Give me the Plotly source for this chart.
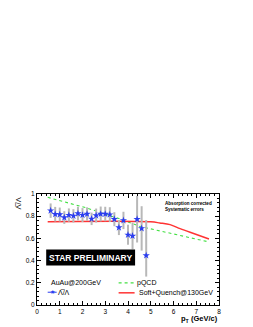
import plotly.graph_objects as go

# Data
pt = [0.6, 0.8, 1.0, 1.2, 1.4, 1.6, 1.8, 2.0, 2.2, 2.4, 2.6, 2.8, 3.0, 3.2, 3.4, 3.6, 3.8, 4.0, 4.2, 4.4, 4.6, 4.8]
ratio = [0.85, 0.818, 0.815, 0.788, 0.81, 0.803, 0.824, 0.81, 0.82, 0.776, 0.806, 0.82, 0.82, 0.814,
         0.773, 0.698, 0.762, 0.632, 0.622, 0.773, 0.69, 0.446]
err_plus = [0.065, 0.066, 0.063, 0.057, 0.06, 0.06, 0.062, 0.063, 0.06, 0.056, 0.063, 0.067, 0.065, 0.067,
            0.063, 0.068, 0.078, 0.09, 0.12, 0.21, 0.2, 0.32]
err_minus = [0.065, 0.066, 0.063, 0.057, 0.06, 0.06, 0.062, 0.063, 0.06, 0.056, 0.063, 0.067, 0.065, 0.067,
             0.063, 0.068, 0.078, 0.09, 0.12, 0.21, 0.2, 0.19]

pqcd_pt = [0.47, 2.17, 3.64, 4.52, 7.56]
pqcd_val = [0.97, 0.875, 0.776, 0.708, 0.568]

sq_pt = [0.47, 5.0, 5.4, 5.85, 6.29, 6.73, 7.56]
sq_val = [0.75, 0.749, 0.739, 0.724, 0.688, 0.655, 0.595]

x_ticks = [0, 1, 2, 3, 4, 5, 6, 7, 8]
y_ticks = [0, 0.2, 0.4, 0.6, 0.8, 1]
y_tick_text = ["0", "0.2", "0.4", "0.6", "0.8", "1"]

FONT = "Liberation Sans, Arial, sans-serif"
BLUE = "#2a3cf0"
GREEN = "#44e044"
RED = "#ff3333"
GREY = "#b8b8b8"

fig = go.Figure()

fig.add_trace(go.Scatter(x=pqcd_pt, y=pqcd_val, mode="lines",
                         line=dict(color=GREEN, width=1.1, dash="dot"), showlegend=False))
fig.add_trace(go.Scatter(x=sq_pt, y=sq_val, mode="lines", line_shape="spline",
                         line=dict(color=RED, width=1.5), showlegend=False))
fig.add_trace(go.Scatter(x=pt, y=ratio, mode="markers",
                         marker=dict(symbol="star", size=5.5, color=BLUE),
                         error_y=dict(type="data", symmetric=False, array=err_plus, arrayminus=err_minus,
                                      color=GREY, thickness=2, width=0),
                         showlegend=False))

axis_common = dict(showline=True, linecolor="black", linewidth=1, mirror="allticks",
                   ticks="inside", ticklen=4, tickcolor="black", showgrid=False, zeroline=False,
                   automargin=False,
                   tickfont=dict(family=FONT, size=6.5, color="black"))

fig.update_xaxes(range=[0, 8], tickvals=x_ticks, ticktext=[str(v) for v in x_ticks],
                 minor=dict(ticks="inside", ticklen=2, dtick=0.2, tickcolor="black"),
                 **axis_common)
fig.update_yaxes(range=[0, 1], tickvals=y_ticks, ticktext=y_tick_text,
                 minor=dict(ticks="inside", ticklen=2, dtick=0.04, tickcolor="black"),
                 **axis_common)

# The page body has an 8 px margin, so figure coordinates are page coordinates minus 8.
OFF = 8
W, H = 253 - OFF, 327 - OFF
L, R, T, B = 37.3 - OFF, 219.5 - OFF, 194.3 - OFF, 305.5 - OFF


def px(x):
    return (x - OFF - L) / (R - L)


def py(y):
    return (B - (y - OFF)) / (B - T)


shapes = []
annotations = []

# STAR PRELIMINARY box
shapes.append(dict(type="rect", xref="paper", yref="paper", x0=px(46.5), x1=px(135.5), y0=py(266), y1=py(250),
                   fillcolor="black", line=dict(width=0), layer="above"))
annotations.append(dict(xref="paper", yref="paper", x=px(91), y=py(258), text="<b>STAR PRELIMINARY</b>",
                        showarrow=False, font=dict(family=FONT, size=8.5, color="white"),
                        xanchor="center", yanchor="middle"))

# Absorption corrected note
annotations.append(dict(xref="paper", yref="paper", x=px(163), y=py(206.8),
                        text="<b>Absorption corrected<br>Systematic errors</b>", showarrow=False,
                        font=dict(family=FONT, size=4.6, color="black"), xanchor="left", yanchor="middle",
                        align="left"))

# Legend (drawn manually)
annotations.append(dict(xref="paper", yref="paper", x=px(49), y=py(283), text="AuAu@200GeV",
                        showarrow=False, font=dict(family=FONT, size=7, color="black"),
                        xanchor="left", yanchor="middle"))
shapes.append(dict(type="line", xref="paper", yref="paper", x0=px(48), x1=px(57), y0=py(292.7), y1=py(292.7),
                   line=dict(color=BLUE, width=1)))
annotations.append(dict(xref="paper", yref="paper", x=px(52.5), y=py(292.7), text="\u2605",
                        showarrow=False, font=dict(family=FONT, size=6, color=BLUE),
                        xanchor="center", yanchor="middle"))
annotations.append(dict(xref="paper", yref="paper", x=px(56.5), y=py(292.7), text="\u039b\u0305/\u039b",
                        showarrow=False, font=dict(family=FONT, size=7, color="black"),
                        xanchor="left", yanchor="middle"))

shapes.append(dict(type="line", xref="paper", yref="paper", x0=px(119), x1=px(135), y0=py(283.3), y1=py(283.3),
                   line=dict(color=GREEN, width=1.1, dash="dot")))
annotations.append(dict(xref="paper", yref="paper", x=px(135.5), y=py(283.3), text="pQCD",
                        showarrow=False, font=dict(family=FONT, size=7, color="black"),
                        xanchor="left", yanchor="middle"))
shapes.append(dict(type="line", xref="paper", yref="paper", x0=px(119), x1=px(135), y0=py(293.3), y1=py(293.3),
                   line=dict(color=RED, width=1.5)))
annotations.append(dict(xref="paper", yref="paper", x=px(137), y=py(293.3), text="Soft+Quench@130GeV",
                        showarrow=False, font=dict(family=FONT, size=7, color="black"),
                        xanchor="left", yanchor="middle"))

# Axis titles
annotations.append(dict(xref="paper", yref="paper", x=px(19), y=py(204), text="\u039b\u0305/\u039b",
                        textangle=-90, showarrow=False, font=dict(family=FONT, size=7.5, color="black"),
                        xanchor="center", yanchor="middle"))
annotations.append(dict(xref="paper", yref="paper", x=px(221), y=py(319.5),
                        text="<b>p<sub>T</sub> (GeV/c)</b>", showarrow=False,
                        font=dict(family=FONT, size=7.5, color="black"), xanchor="right", yanchor="middle"))

fig.update_layout(width=W, height=H, margin=dict(l=L, r=W - R, t=T, b=H - B, pad=0),
                  paper_bgcolor="white", plot_bgcolor="white", showlegend=False,
                  shapes=shapes, annotations=annotations, font=dict(family=FONT))

fig.write_html("out.html")
